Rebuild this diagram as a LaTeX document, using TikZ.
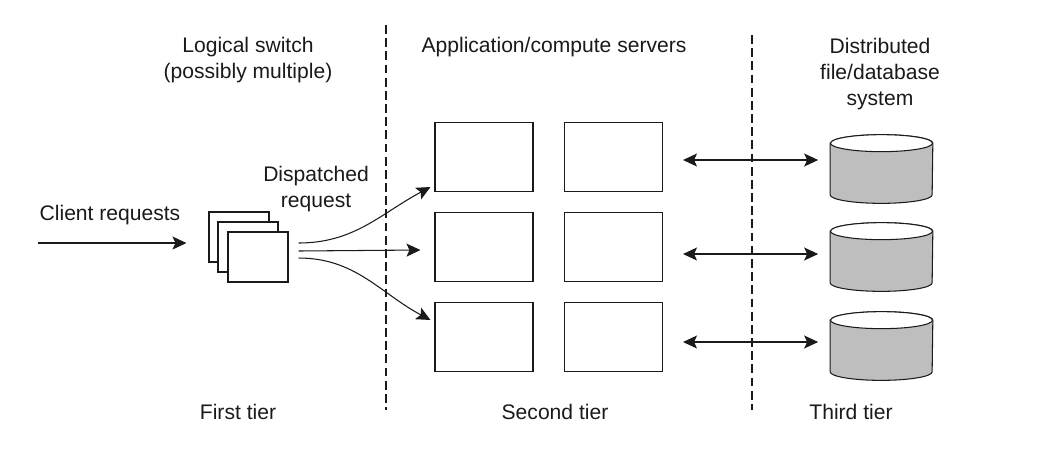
\documentclass[tikz,border=0pt]{standalone}
\usepackage{fontspec}
\setmainfont{Liberation Sans}
\usetikzlibrary{arrows.meta, positioning, calc}
\definecolor{ink}{HTML}{1A1A1A}
\definecolor{diskgray}{HTML}{BEBEBE}

\begin{document}
\begin{tikzpicture}[x=0.02cm, y=-0.02cm,
  txt/.style={font=\fontsize{12}{14.8}\selectfont, align=center, text=ink, inner sep=0pt},
  srv/.style={draw=ink, line width=0.6pt, fill=white, minimum width=1.96cm, minimum height=1.38cm, inner sep=0pt},
  sw/.style={draw=ink, line width=0.6pt, fill=white, minimum width=1.2cm, minimum height=1cm, inner sep=0pt},
  disk/.style={minimum width=2.04cm, minimum height=1.36cm, inner sep=0pt},
  rim/.style={x radius=1.02cm, y radius=0.17cm},
  tierline/.style={draw=ink, line width=0.8pt, dash pattern=on 5pt off 2.5pt},
  link/.style={line width=0.6pt, draw=ink},
  >={Stealth[length=2.8mm, width=2.6mm, inset=0.6mm]}
]
\useasboundingbox (0,0) rectangle (1042,458);

% tier borders
\draw[tierline] (386,25) -- (386,410);
\draw[tierline] (752,35) -- (752,410);

% headings
\node[txt] (swtitle)  at (248,60)  {Logical switch\\(possibly multiple)};
\node[txt] (srvtitle) at (554,47)  {Application/compute servers};
\node[txt] (dbtitle)  at (880,74)  {Distributed\\file/database\\system};
\node[txt] (client)   at (110,215) {Client requests};
\node[txt] (disp)     at (316,189) {Dispatched\\request};

% logical switches
\node[sw] (back)  at (239,237) {};
\node[sw] (mid)   at (248,247) {};
\node[sw] (front) at (258,257) {};

% servers
\foreach \r/\y in {1/157,2/247,3/337}{
  \node[srv] (a\r) at (484,\y) {};
  \node[srv] (b\r) at (613.5,\y) {};
}

% disks
\foreach \r/\y in {1/169,2/257,3/346}{
  \node[disk] (d\r) at (881.5,\y) {};
  \draw[link, fill=diskgray] ($(d\r.north west)+(0,8.5)$) -- ($(d\r.south west)+(0,-8.5)$)
    arc[start angle=180, end angle=360, rim] -- ($(d\r.north east)+(0,8.5)$)
    arc[start angle=0, end angle=180, rim] -- cycle;
  \draw[link, fill=white] ($(d\r.north)+(0,8.5)$) ellipse[rim];
}

% requests
\coordinate (src) at (38,243);
\draw[->, link] (src) -- ($(back.west)+(-22,6)$);
\draw[->, link] ($(front.east)+(10,-14)$) to[out=0, in=208] ($(a1.south west)+(-4,-5)$);
\draw[->, link] ($(front.east)+(10,-6)$) -- ($(a2.west)+(-14,3)$);
\draw[->, link] ($(front.east)+(10,1)$) to[out=0, in=152] ($(a3.north west)+(-4,18)$);

% storage links
\draw[<->, link] ($(b1.east)+(20,3)$) -- ($(d1.west)+(-12,-9)$);
\draw[<->, link] ($(b2.east)+(20,7)$) -- ($(d2.west)+(-12,-3)$);
\draw[<->, link] ($(b3.east)+(20,5)$) -- ($(d3.west)+(-12,-4)$);

% tiers
\node[txt] (t1) at (238,412) {First tier};
\node[txt] (t2) at (555,412) {Second tier};
\node[txt] (t3) at (851,412) {Third tier};
\end{tikzpicture}
\end{document}
